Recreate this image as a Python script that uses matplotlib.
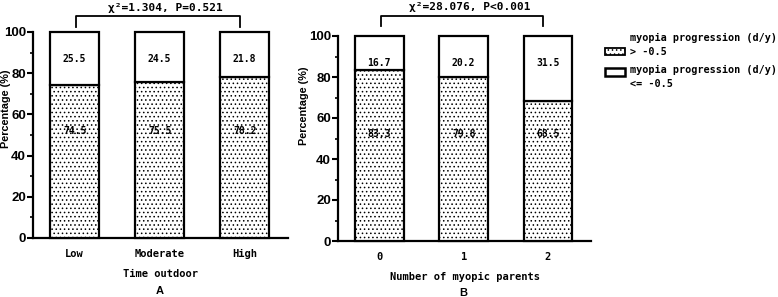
import numpy as np
import matplotlib
matplotlib.use('Agg')
import matplotlib.pyplot as plt
from matplotlib.patches import Rectangle

plt.rcParams['hatch.linewidth'] = 0.6

# data
groups_a = ['Low', 'Moderate', 'High']
slow_a = [74.5, 75.5, 78.2]     # progression > -0.5
fast_a = [25.5, 24.5, 21.8]     # progression <= -0.5
groups_b = ['0', '1', '2']
slow_b = [83.3, 79.8, 68.5]
fast_b = [16.7, 20.2, 31.5]
stat_a = 'χ²=1.304, P=0.521'
stat_b = 'χ²=28.076, P<0.001'
legend_labels = ['myopia progression (d/y)\n> -0.5',
                 'myopia progression (d/y)\n<= -0.5']

mono = 'DejaVu Sans Mono'
tick_font = 'Liberation Sans'
HATCH = '....'

fig = plt.figure(figsize=(7.78, 2.97), dpi=100)
ax_a = fig.add_axes([33/778, 1-238/297, (288-33)/778, 206/297])
ax_b = fig.add_axes([338/778, 1-241/297, (591-338)/778, 205/297])


def panel(ax, groups, slow, fast, xlabel, letter, stat, bracket_y, ylab_pos):
    x = np.arange(len(groups))
    w = 0.576
    ax.bar(x, slow, w, color='white', edgecolor='black', hatch=HATCH,
           linewidth=1.6, clip_on=False, zorder=3)
    ax.bar(x, fast, w, bottom=slow, color='white', edgecolor='black',
           linewidth=1.6, clip_on=False, zorder=3)
    for xi, s, f in zip(x, slow, fast):
        ax.text(xi, 52, f'{s:.1f}', ha='center', va='center',
                fontsize=7, family=mono, fontweight='bold', zorder=4)
        ax.text(xi, 87, f'{f:.1f}', ha='center', va='center',
                fontsize=7, family=mono, fontweight='bold', zorder=4)
    ax.set_xlim(-0.49, 2.51)
    ax.set_ylim(0, 100)
    ax.set_xticks(x)
    ax.set_xticklabels(groups, family=mono, fontweight='bold', fontsize=7.5)
    ax.tick_params(axis='x', length=0, pad=8)
    ax.set_yticks(np.arange(0, 101, 20))
    ax.set_yticks(np.arange(10, 100, 20), minor=True)
    ax.tick_params(axis='y', which='major', length=4, width=1.5, pad=1,
                   labelsize=9.5)
    ax.tick_params(axis='y', which='minor', length=2, width=1.2)
    for lab in ax.get_yticklabels():
        lab.set_family(tick_font)
        lab.set_fontweight('bold')
    for s in ['top', 'right']:
        ax.spines[s].set_visible(False)
    for s in ['left', 'bottom']:
        ax.spines[s].set_linewidth(1.6)
    ax.set_ylabel('Percentage (%)', family=tick_font, fontweight='bold',
                  fontsize=7.8)
    ax.yaxis.set_label_coords(*ylab_pos)
    ax.set_xlabel(xlabel, family=mono, fontweight='bold', fontsize=7.5,
                  labelpad=7)
    ax.text(1, -25.5, letter, ha='center', va='center', family=tick_font,
            fontweight='bold', fontsize=8, clip_on=False)
    x0, x1 = 0.02, 1.94
    top, low = bracket_y
    ax.plot([x0, x0, x1, x1], [low, top, top, low], color='black',
            linewidth=1.3, clip_on=False)
    ax.text((x0 + x1) / 2 + 0.09, top + 1.5, stat, ha='center', va='bottom',
            family=mono, fontweight='bold', fontsize=8)


panel(ax_a, groups_a, slow_a, fast_a, 'Time outdoor', 'A', stat_a,
      (107.8, 102.4), ((11 - 33) / 255, 0.626))
panel(ax_b, groups_b, slow_b, fast_b, 'Number of myopic parents', 'B',
      stat_b, (110.0, 105.0), ((309 - 338) / 253, 0.66))

# legend, drawn by hand to match the layout of the original
W, H = 778, 297
fig.add_artist(Rectangle((605/W, 1-55/H), 20/W, 7/H, transform=fig.transFigure,
                         facecolor='white', edgecolor='black', hatch=HATCH,
                         linewidth=1.3))
fig.add_artist(Rectangle((605/W, 1-76/H), 20/W, 8/H, transform=fig.transFigure,
                         facecolor='white', edgecolor='black', linewidth=1.8))
fig.text(630/W, 1-45/H, legend_labels[0], ha='left', va='center',
         family=mono, fontweight='bold', fontsize=7.3, linespacing=1.45)
fig.text(630/W, 1-77/H, legend_labels[1], ha='left', va='center',
         family=mono, fontweight='bold', fontsize=7.3, linespacing=1.45)

fig.savefig('out.png', dpi=100)
